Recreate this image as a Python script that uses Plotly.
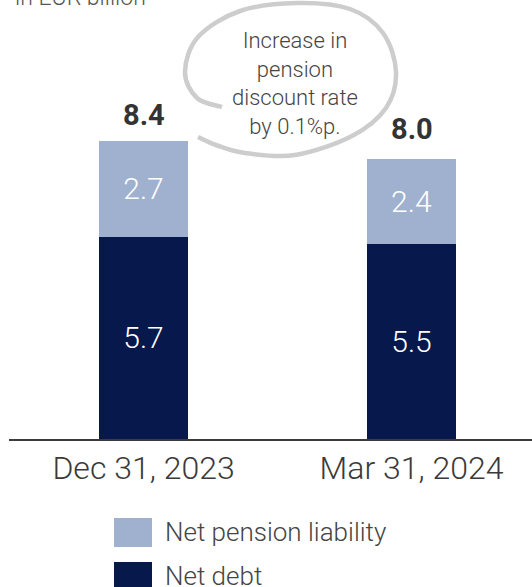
import plotly.graph_objects as go

categories = ["Dec 31, 2023", "Mar 31, 2024"]
net_debt = [5.7, 5.5]
net_pension = [2.7, 2.4]
totals = [8.4, 8.0]
series_names = ["Net pension liability", "Net debt"]
title_text = "in EUR billion"
bubble_text = "Increase in<br>pension<br>discount rate<br>by 0.1%p."

LIGHT = "#9FB1CE"
DARK = "#07184C"
FONT = "Roboto"

W, H = 532, 587
ML, MR, MT, MB = 9, 0, 0, 148
PW, PH = W - ML - MR, H - MT - MB


def px(x):
    return (x - ML) / PW


def py(y):
    return (H - MB - y) / PH


fig = go.Figure()
fig.add_trace(go.Bar(
    x=categories, y=net_debt, name=series_names[1], marker_color=DARK,
    marker_line_width=0, width=0.332,
    text=[f"{v:.1f}" for v in net_debt], textposition="inside",
    insidetextanchor="middle", constraintext="none",
    textfont=dict(family=FONT, size=30, color="white", weight=300),
    showlegend=False, hoverinfo="skip"))
fig.add_trace(go.Bar(
    x=categories, y=net_pension, name=series_names[0], marker_color=LIGHT,
    marker_line_width=0, width=0.332,
    text=[f"{v:.1f}" for v in net_pension], textposition="inside",
    insidetextanchor="middle", constraintext="none",
    textfont=dict(family=FONT, size=30, color="white", weight=300),
    showlegend=False, hoverinfo="skip"))

annotations = []
for c, t in zip(categories, totals):
    annotations.append(dict(x=c, y=t, xref="x", yref="y", text=f"{t:.1f}",
                            showarrow=False, yanchor="bottom", yshift=7,
                            font=dict(family=FONT, size=29, color="#333333", weight=700)))

annotations.append(dict(x=px(13), y=py(13), xref="paper", yref="paper", text=title_text,
                        showarrow=False, xanchor="left", yanchor="bottom",
                        font=dict(family=FONT, size=23, color="#555555", weight=300)))

annotations.append(dict(x=px(295), y=py(83), xref="paper", yref="paper", text=bubble_text,
                        showarrow=False, xanchor="center", yanchor="middle",
                        font=dict(family=FONT, size=22, color="#444444", weight=300)))

# legend (manual)
shapes = []
leg = [(series_names[0], LIGHT, 518), (series_names[1], DARK, 562)]
for name, col, top in leg:
    shapes.append(dict(type="rect", xref="paper", yref="paper",
                       x0=px(114), x1=px(152), y0=py(top), y1=py(top + 29),
                       fillcolor=col, line_width=0))
    annotations.append(dict(x=px(163), y=py(top + 14), xref="paper", yref="paper",
                            text=name, showarrow=False, xanchor="left", yanchor="middle",
                            font=dict(family=FONT, size=26, color="#444444", weight=300)))

# speech bubble
pts = [(222, 107), (197, 98), (185, 72), (198, 37), (240, 11), (297, 3), (350, 9),
       (383, 33), (396, 72), (386, 108), (352, 136), (295, 155), (245, 153),
       (216, 145), (198, 137)]
P = [(px(x), py(y)) for x, y in pts]
path = f"M{P[0][0]},{P[0][1]}"
for i in range(len(P) - 1):
    p0 = P[i - 1] if i > 0 else P[i]
    p1 = P[i]
    p2 = P[i + 1]
    p3 = P[i + 2] if i + 2 < len(P) else P[i + 1]
    c1 = (p1[0] + (p2[0] - p0[0]) / 6, p1[1] + (p2[1] - p0[1]) / 6)
    c2 = (p2[0] - (p3[0] - p1[0]) / 6, p2[1] - (p3[1] - p1[1]) / 6)
    path += f" C{c1[0]},{c1[1]} {c2[0]},{c2[1]} {p2[0]},{p2[1]}"
shapes.append(dict(type="path", xref="paper", yref="paper", path=path,
                   line=dict(color="#CDCDCD", width=4.5), layer="above"))

fig.update_layout(
    width=W, height=H, barmode="stack",
    margin=dict(l=ML, r=MR, t=MT, b=MB, pad=0),
    paper_bgcolor="white", plot_bgcolor="white",
    font=dict(family=FONT),
    xaxis=dict(type="category", range=[-0.502, 1.4496], showline=True,
               linecolor="#3c3c3c", linewidth=1.5, ticks="", showgrid=False,
               zeroline=False, tickfont=dict(family=FONT, size=32, color="#3a3a3a", weight=300)),
    yaxis=dict(range=[0, 12.373], visible=False),
    annotations=annotations, shapes=shapes, showlegend=False,
)

fig.write_html("out.html")
